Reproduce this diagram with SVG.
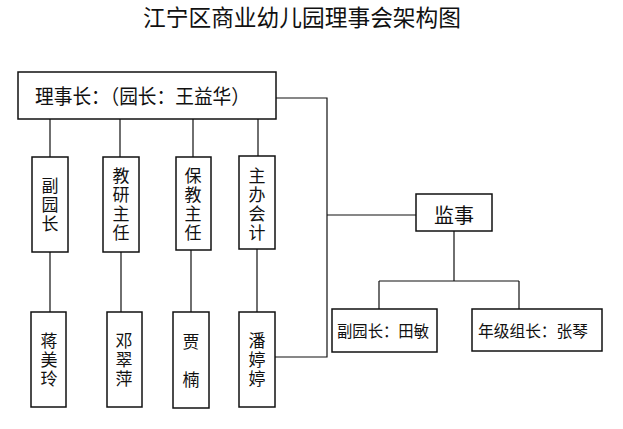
<svg xmlns="http://www.w3.org/2000/svg" width="623" height="429" viewBox="0 0 623 429">
<style>
.box{fill:#fff;stroke:#111;stroke-width:1.5}
.ln{fill:none;stroke:#111;stroke-width:1.2}
text{font-family:"Noto Sans CJK SC","Noto Sans",sans-serif;fill:#111}
.v{font-size:17px;text-anchor:middle;writing-mode:vertical-rl;letter-spacing:2px}
.h{font-size:16px}
</style>
<rect width="623" height="429" fill="#fff"/>
<text x="302" y="26" font-size="23" text-anchor="middle" textLength="318" lengthAdjust="spacingAndGlyphs">江宁区商业幼儿园理事会架构图</text>
<g id="connectors">
<path class="ln" d="M50,119V157M120,119V157M193,119V157M258,119V157"/>
<path class="ln" d="M50,252V312M121,252V312M191,250V312M257,249V312"/>
<path class="ln" d="M276,98H327V357H275"/>
<path class="ln" d="M327,215H416"/>
<path class="ln" d="M454,231V281M379,281H519M379,281V309M519,281V309"/>
</g>
<g id="chairman">
<rect class="box" x="18" y="72" width="258" height="47"/>
<text x="35" y="104" font-size="20" textLength="215" lengthAdjust="spacingAndGlyphs">理事长：（园长：王益华）</text>
</g>
<g id="vice">
<rect class="box" x="32" y="157" width="36" height="95"/>
<text class="v" x="50" y="206">副园长</text>
</g>
<g id="research">
<rect class="box" x="103" y="157" width="36" height="95"/>
<text class="v" x="121" y="205">教研主任</text>
</g>
<g id="care">
<rect class="box" x="176" y="157" width="35" height="93"/>
<text class="v" x="193" y="205">保教主任</text>
</g>
<g id="accountant">
<rect class="box" x="239" y="156" width="36" height="93"/>
<text class="v" x="257" y="205">主办会计</text>
</g>
<g id="jiang">
<rect class="box" x="31" y="312" width="35" height="95"/>
<text class="v" x="49" y="361">蒋美玲</text>
</g>
<g id="deng">
<rect class="box" x="107" y="312" width="35" height="95"/>
<text class="v" x="124" y="361">邓翠萍</text>
</g>
<g id="jia">
<rect class="box" x="173" y="312" width="36" height="96"/>
<text class="v" x="191" y="371" style="letter-spacing:21px">贾楠</text>
</g>
<g id="pan">
<rect class="box" x="239" y="312" width="36" height="95"/>
<text class="v" x="257" y="361">潘婷婷</text>
</g>
<g id="supervisor">
<rect class="box" x="416" y="194" width="76" height="37"/>
<text x="454" y="223" font-size="20" text-anchor="middle">监事</text>
</g>
<g id="vice2">
<rect class="box" x="332" y="309" width="105" height="43"/>
<text class="h" x="337" y="337" textLength="92" lengthAdjust="spacingAndGlyphs">副园长：田敏</text>
</g>
<g id="grade">
<rect class="box" x="472" y="309" width="130" height="42"/>
<text class="h" x="478" y="337" textLength="110" lengthAdjust="spacingAndGlyphs">年级组长：张琴</text>
</g>
</svg>
